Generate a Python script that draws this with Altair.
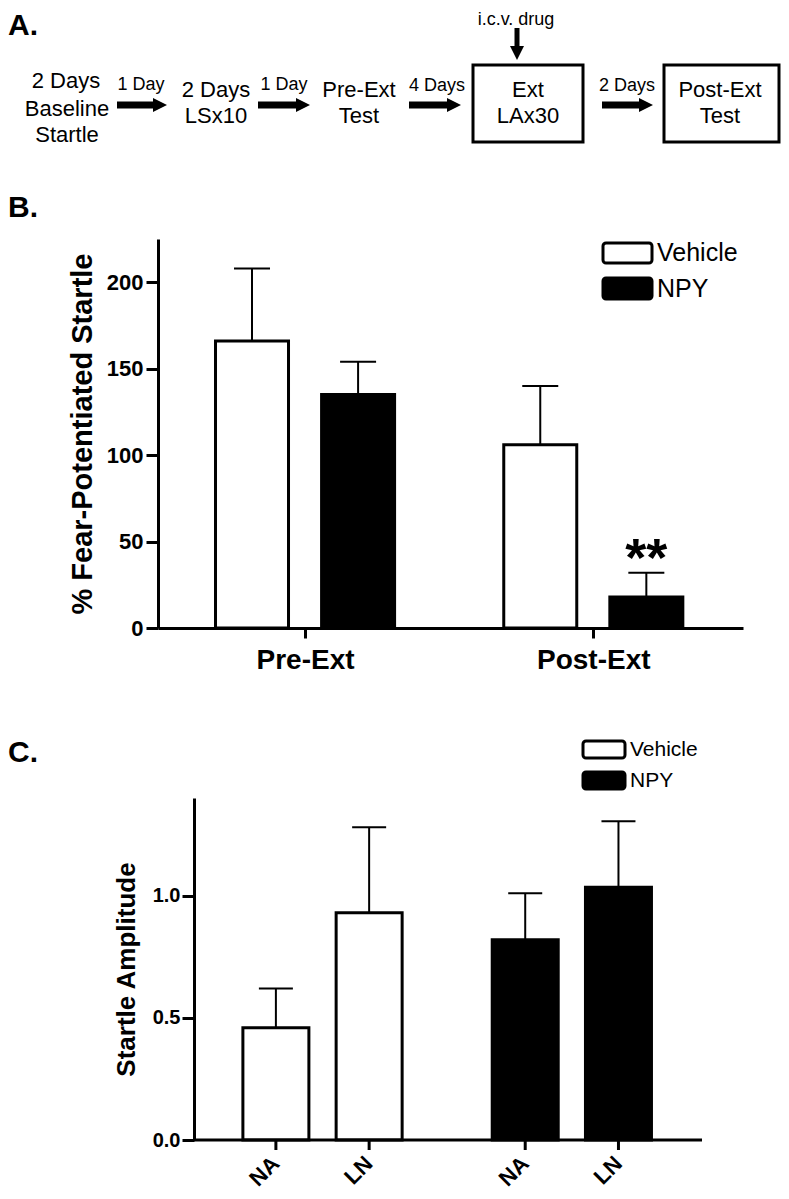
import altair as alt
import pandas as pd

FONT = "Liberation Sans"

# ---------------- data ----------------
# Panel B: % fear-potentiated startle
b_phase = ["Pre-Ext", "Pre-Ext", "Post-Ext", "Post-Ext"]
b_treat = ["Vehicle", "NPY", "Vehicle", "NPY"]
b_mean = [166, 135, 106, 18]
b_sem = [42, 19, 34, 14]
b_sig = ["", "", "", "**"]

# Panel C: startle amplitude
c_treat = ["Vehicle", "Vehicle", "NPY", "NPY"]
c_cond = ["NA", "LN", "NA", "LN"]
c_mean = [0.46, 0.93, 0.82, 1.035]
c_sem = [0.16, 0.35, 0.19, 0.27]

treat_order = ["Vehicle", "NPY"]
phase_order = ["Pre-Ext", "Post-Ext"]
cond_order = ["NA", "LN"]

# Panel A: timeline text
a_big_text = ["2 Days", "Baseline", "Startle", "2 Days", "LSx10", "Pre-Ext", "Test",
              "Ext", "LAx30", "Post-Ext", "Test"]
a_small_text = ["1 Day", "1 Day", "4 Days", "2 Days", "i.c.v. drug"]

# ---------------- layout ----------------
# diagram positions (page pixels)
a_big_x = [66, 67, 67, 216, 216, 359, 359, 528, 528, 720, 720]
a_big_y = [88, 116, 142, 97, 123, 97, 123, 97, 123, 97, 123]
a_small_x = [141, 284, 437, 627, 516]
a_small_y = [90, 90, 91, 91, 25]
arrow_x1 = [117, 258, 409, 602]
arrow_x2 = [167, 310, 461, 653]
arrow_y = 105
box_x1 = [473, 664]
box_x2 = [583, 779]
box_y1 = 65
box_y2 = 142
# grouped-bar offsets (in category units)
B_OFF = 0.184
C_OFF = 0.187

BLACK = "#000000"
fill_scale = alt.Scale(domain=treat_order, range=["#ffffff", "#000000"])
one = pd.DataFrame({"k": [0]})

# ================= Panel A =================
AX = alt.Scale(domain=[158, 781], nice=False, zero=False)
AY = alt.Scale(domain=[8, 180], nice=False, zero=False, reverse=True)

big_df = pd.DataFrame({"t": a_big_text, "x": a_big_x, "y": a_big_y})
small_df = pd.DataFrame({"t": a_small_text, "x": a_small_x, "y": a_small_y})
arr_df = pd.DataFrame({"x1": arrow_x1, "x2": arrow_x2, "y": [arrow_y] * 4})
arr_df["xs"] = arr_df["x2"] - 10
arr_df["xh"] = arr_df["x2"] - 7
box_df = pd.DataFrame({"x1": box_x1, "x2": box_x2, "y1": [box_y1] * 2, "y2": [box_y2] * 2})
down_df = pd.DataFrame({"x": [517], "y1": [28], "y2": [50], "yh": [53]})
lab_df = pd.DataFrame({"t": ["A."], "x": [8], "y": [35]})

a_boxes = alt.Chart(box_df).mark_rect(fill="transparent", stroke=BLACK, strokeWidth=3).encode(
    x=alt.X("x1:Q", scale=AX, axis=None), x2="x2:Q",
    y=alt.Y("y1:Q", scale=AY, axis=None), y2="y2:Q")
a_big = alt.Chart(big_df).mark_text(fontSize=22, align="center", baseline="alphabetic",
                                    color=BLACK).encode(
    x=alt.X("x:Q", scale=AX, axis=None), y=alt.Y("y:Q", scale=AY, axis=None), text="t:N")
a_small = alt.Chart(small_df).mark_text(fontSize=18, align="center", baseline="alphabetic",
                                        color=BLACK).encode(
    x=alt.X("x:Q", scale=AX, axis=None), y=alt.Y("y:Q", scale=AY, axis=None), text="t:N")
a_shaft = alt.Chart(arr_df).mark_rule(strokeWidth=7, color=BLACK).encode(
    x=alt.X("x1:Q", scale=AX, axis=None), x2="xs:Q", y=alt.Y("y:Q", scale=AY, axis=None))
a_head = alt.Chart(arr_df).mark_point(shape="M -1 -1 L 1 0 L -1 1 Z", size=196, filled=True,
                                      color=BLACK, opacity=1).encode(
    x=alt.X("xh:Q", scale=AX, axis=None), y=alt.Y("y:Q", scale=AY, axis=None))
a_dshaft = alt.Chart(down_df).mark_rule(strokeWidth=5, color=BLACK).encode(
    x=alt.X("x:Q", scale=AX, axis=None), y=alt.Y("y1:Q", scale=AY, axis=None), y2="y2:Q")
a_dhead = alt.Chart(down_df).mark_point(shape="M -1 -1 L 1 -1 L 0 1 Z", size=196, filled=True,
                                        color=BLACK, opacity=1).encode(
    x=alt.X("x:Q", scale=AX, axis=None), y=alt.Y("yh:Q", scale=AY, axis=None))
a_lab = alt.Chart(lab_df).mark_text(fontSize=30, fontWeight="bold", align="left",
                                    baseline="alphabetic", color=BLACK).encode(
    x=alt.X("x:Q", scale=AX, axis=None), y=alt.Y("y:Q", scale=AY, axis=None), text="t:N")

panel_a = alt.layer(a_boxes, a_shaft, a_head, a_dshaft, a_dhead, a_big, a_small, a_lab).properties(
    width=623, height=172)

# ================= Panel B =================
b_df = pd.DataFrame({"phase": b_phase, "treat": b_treat, "mean": b_mean, "sem": b_sem, "sig": b_sig})
b_df["top"] = b_df["mean"] + b_df["sem"]
b_df["pos"] = [phase_order.index(p) + (-B_OFF if t == "Vehicle" else B_OFF)
               for p, t in zip(b_phase, b_treat)]

bx_scale = alt.Scale(domain=[-0.4928, 1.502], nice=False, zero=False)
bx = alt.X("pos:Q", scale=bx_scale,
           axis=alt.Axis(values=[0, 1], labelExpr=f"{phase_order}[datum.value]",
                         title=None, labelAngle=0, labelFontSize=28, labelFontWeight="bold",
                         labelColor=BLACK, tickSize=10, tickWidth=3, tickColor=BLACK,
                         domainWidth=3, domainColor=BLACK, labelPadding=8, grid=False))
by_scale = alt.Scale(domain=[0, 225], nice=False)

b_bars = alt.Chart(b_df).mark_bar(stroke=BLACK, strokeWidth=3, width=73).encode(
    x=bx,
    y=alt.Y("mean:Q", scale=by_scale,
            axis=alt.Axis(values=[0, 50, 100, 150, 200], title="% Fear-Potentiated Startle",
                          titleFontSize=29, titleFontWeight="bold", titleColor=BLACK,
                          labelFontSize=22, labelFontWeight="bold", labelColor=BLACK,
                          tickSize=12, tickWidth=3, tickColor=BLACK, domainWidth=3,
                          domainColor=BLACK, grid=False, labelPadding=3, titlePadding=9)),
    fill=alt.Fill("treat:N", scale=fill_scale, legend=None))
b_err = alt.Chart(b_df).mark_rule(strokeWidth=2, color=BLACK).encode(
    x=alt.X("pos:Q", scale=bx_scale), y=alt.Y("mean:Q", scale=by_scale), y2="top:Q")
b_cap = alt.Chart(b_df).mark_tick(orient="horizontal", size=36, thickness=2, color=BLACK,
                                  opacity=1).encode(
    x=alt.X("pos:Q", scale=bx_scale), y=alt.Y("top:Q", scale=by_scale))
b_star = alt.Chart(b_df).mark_text(fontSize=54, fontWeight="bold", baseline="alphabetic",
                                   dy=3, color=BLACK).encode(
    x=alt.X("pos:Q", scale=bx_scale), y=alt.Y("top:Q", scale=by_scale), text="sig:N")

b_frame = alt.Chart(one).mark_rule(strokeWidth=0, strokeOpacity=0).encode(
    x=alt.value(-150), y=alt.value(-59), y2=alt.value(451))
b_label = alt.Chart(one).mark_text(text="B.", fontSize=30, fontWeight="bold", align="left",
                                   baseline="alphabetic", color=BLACK).encode(
    x=alt.value(-150), y=alt.value(-22))
b_leg1 = alt.Chart(one).mark_rect(fill="#ffffff", stroke=BLACK, strokeWidth=3, cornerRadius=3).encode(
    x=alt.value(445), x2=alt.value(494), y=alt.value(4), y2=alt.value(24))
b_leg2 = alt.Chart(one).mark_rect(fill=BLACK, stroke=BLACK, strokeWidth=3, cornerRadius=3).encode(
    x=alt.value(445), x2=alt.value(494), y=alt.value(39), y2=alt.value(60))
b_legt1 = alt.Chart(one).mark_text(text="Vehicle", fontSize=25, align="left", baseline="middle",
                                   color=BLACK).encode(x=alt.value(499), y=alt.value(14))
b_legt2 = alt.Chart(one).mark_text(text="NPY", fontSize=25, align="left", baseline="middle",
                                   color=BLACK).encode(x=alt.value(499), y=alt.value(50))

panel_b = alt.layer(b_bars, b_err, b_cap, b_star, b_frame, b_label, b_leg1, b_leg2,
                    b_legt1, b_legt2).properties(width=585, height=389)

# ================= Panel C =================
# plot origin shared with B (page x 158); the C axis sits 36px to the right of it
C_SHIFT = 36
c_df = pd.DataFrame({"treat": c_treat, "cond": c_cond, "mean": c_mean, "sem": c_sem})
c_df["top"] = c_df["mean"] + c_df["sem"]
c_df["pos"] = [treat_order.index(t) + (-C_OFF if c == "NA" else C_OFF)
               for t, c in zip(c_treat, c_cond)]

cx_scale = alt.Scale(domain=[-0.6398, 1.502], nice=False, zero=False)
cy_scale = alt.Scale(domain=[0, 1.4], nice=False)

c_bars = alt.Chart(c_df).mark_bar(stroke=BLACK, strokeWidth=3, width=66).encode(
    x=alt.X("pos:Q", scale=cx_scale, axis=None),
    y=alt.Y("mean:Q", scale=cy_scale,
            axis=alt.Axis(values=[0, 0.5, 1.0], format=".1f", title="Startle Amplitude",
                          titleFontSize=26, titleFontWeight="bold", titleColor=BLACK,
                          labelFontSize=20, labelFontWeight="bold", labelColor=BLACK,
                          tickSize=12, tickWidth=3, tickColor=BLACK, domainWidth=3,
                          domainColor=BLACK, grid=False, labelPadding=2, titlePadding=13,
                          offset=-C_SHIFT)),
    fill=alt.Fill("treat:N", scale=fill_scale, legend=None))
c_err = alt.Chart(c_df).mark_rule(strokeWidth=2, color=BLACK).encode(
    x=alt.X("pos:Q", scale=cx_scale, axis=None), y=alt.Y("mean:Q", scale=cy_scale), y2="top:Q")
c_cap = alt.Chart(c_df).mark_tick(orient="horizontal", size=34, thickness=2, color=BLACK,
                                  opacity=1).encode(
    x=alt.X("pos:Q", scale=cx_scale, axis=None), y=alt.Y("top:Q", scale=cy_scale))
c_ticks = alt.Chart(c_df).mark_rule(strokeWidth=3, color=BLACK).encode(
    x=alt.X("pos:Q", scale=cx_scale, axis=None), y=alt.value(342), y2=alt.value(352))
c_xlab = alt.Chart(c_df).mark_text(angle=315, align="right", baseline="middle", fontSize=22,
                                   fontWeight="bold", color=BLACK).encode(
    x=alt.X("pos:Q", scale=cx_scale, axis=None), y=alt.value(362), text="cond:N")
c_base = alt.Chart(one).mark_rule(strokeWidth=3, color=BLACK).encode(
    x=alt.value(C_SHIFT - 1), x2=alt.value(544), y=alt.value(342))

c_frame = alt.Chart(one).mark_rule(strokeWidth=0, strokeOpacity=0).encode(
    x=alt.value(-150), y=alt.value(-108), y2=alt.value(390))
c_label = alt.Chart(one).mark_text(text="C.", fontSize=30, fontWeight="bold", align="left",
                                   baseline="alphabetic", color=BLACK).encode(
    x=alt.value(-150), y=alt.value(-36))
c_leg1 = alt.Chart(one).mark_rect(fill="#ffffff", stroke=BLACK, strokeWidth=3, cornerRadius=3).encode(
    x=alt.value(425), x2=alt.value(467), y=alt.value(-57), y2=alt.value(-40))
c_leg2 = alt.Chart(one).mark_rect(fill=BLACK, stroke=BLACK, strokeWidth=3, cornerRadius=3).encode(
    x=alt.value(425), x2=alt.value(467), y=alt.value(-26), y2=alt.value(-9))
c_legt1 = alt.Chart(one).mark_text(text="Vehicle", fontSize=21, align="left", baseline="middle",
                                   color=BLACK).encode(x=alt.value(472), y=alt.value(-48))
c_legt2 = alt.Chart(one).mark_text(text="NPY", fontSize=21, align="left", baseline="middle",
                                   color=BLACK).encode(x=alt.value(472), y=alt.value(-17))

panel_c = alt.layer(c_bars, c_err, c_cap, c_ticks, c_xlab, c_base, c_frame, c_label, c_leg1, c_leg2,
                    c_legt1, c_legt2).properties(width=544, height=342)

chart = alt.vconcat(panel_a, panel_b, panel_c, spacing=0).properties(
    padding=0, background="white"
).configure(font=FONT).configure_view(stroke=None)

chart.save("out.html", embed_options={"renderer": "svg", "actions": False})
